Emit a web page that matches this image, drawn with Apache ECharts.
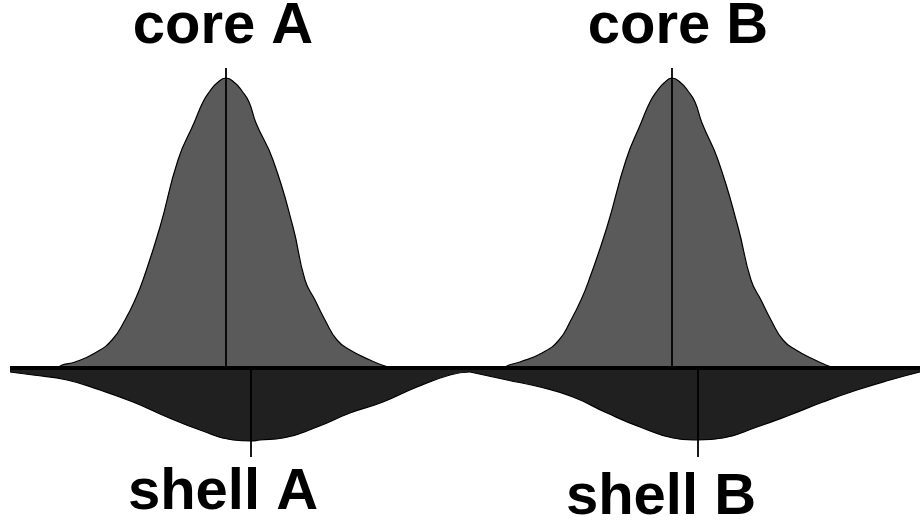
<!DOCTYPE html>
<html>
<head>
    <meta charset="UTF-8">
    <title>core / shell</title>
    <script src="https://cdn.jsdelivr.net/npm/echarts/dist/echarts.min.js"></script>
    <style>
        html, body { margin: 0; padding: 0; background: #fff; }
        #chart { width: 920px; height: 525px; }
    </style>
</head>
<body>
    <div id="chart"></div>
    <script>
        // 读图得到的数据 (x 位置, 信号高度; 基线为 0)
        var coreA = [[58,0],[62,3],[75,6],[95,15],[112,28],[125,48],[135,68],[143,88],[160,141],[178,208],[194,245],[203,266],[210,277],[217,285],[226,290],[235,285],[242,277],[249,266],[256,245],[273,208],[293,141],[305,88],[315,68],[325,48],[337,28],[350,18],[370,8],[382,3],[393,0]];
        var coreB = [[504,0],[509,3],[520,6],[542,15],[559,28],[571,48],[581,68],[589,88],[607,141],[626,208],[641,245],[650,266],[657,277],[664,285],[672,290],[681,285],[688,277],[695,266],[702,245],[718,208],[738,141],[751,88],[761,68],[771,48],[783,28],[796,18],[815,8],[826,3],[834,0]];
        var shellA = [[10,-4],[33,-7],[67,-12],[100,-22],[133,-34],[167,-49],[200,-62],[233,-72],[251,-73],[260,-72],[283,-70],[317,-59],[350,-45],[383,-34],[417,-19],[450,-7],[470,-4]];
        var shellB = [[470,-4],[507,-12],[540,-19],[573,-29],[607,-45],[640,-59],[673,-70],[693,-72],[698,-72],[723,-70],[757,-59],[790,-47],[823,-34],[857,-22],[890,-12],[920,-4]];

        // 峰位竖线
        var coreCenters = [226, 672];
        var coreLineTop = 300;
        var shellCenters = [251, 698];
        var shellLineBottom = -89;
        var baselineRange = [10, 920];

        var labels = ['core A', 'core B', 'shell A', 'shell B'];

        var chart = echarts.init(document.getElementById('chart'));

        function areaSeries(name, data, fill) {
            return {
                name: name,
                type: 'line',
                data: data,
                smooth: 0.5,
                symbol: 'none',
                lineStyle: { color: '#000', width: 1.2 },
                areaStyle: { color: fill, opacity: 1 },
                z: 2
            };
        }

        function vline(x, y) {
            return [{ coord: [x, 0] }, { coord: [x, y] }];
        }

        var font = 'bold 58px "Liberation Sans", Arial, sans-serif';

        var option = {
            animation: false,
            grid: { left: 0, right: 0, top: 0, bottom: 0 },
            xAxis: { type: 'value', min: 0, max: 920, show: false },
            yAxis: { type: 'value', min: -157, max: 368, show: false },
            series: [
                areaSeries('shell A', shellA, '#202020'),
                areaSeries('shell B', shellB, '#202020'),
                areaSeries('core A', coreA, '#5a5a5a'),
                areaSeries('core B', coreB, '#5a5a5a'),
                {
                    type: 'line',
                    data: [],
                    z: 5,
                    markLine: {
                        silent: true,
                        symbol: 'none',
                        label: { show: false },
                        animation: false,
                        lineStyle: { color: '#000', type: 'solid', width: 1.8 },
                        data: [
                            vline(coreCenters[0], coreLineTop),
                            vline(coreCenters[1], coreLineTop),
                            vline(shellCenters[0], shellLineBottom),
                            vline(shellCenters[1], shellLineBottom),
                            [{ coord: [baselineRange[0], 0], lineStyle: { width: 4 } },
                             { coord: [baselineRange[1], 0] }]
                        ]
                    }
                }
            ],
            graphic: [
                { type: 'text', x: 223, y: 27, style: { text: labels[0], font: font, fill: '#000', align: 'center', verticalAlign: 'middle' } },
                { type: 'text', x: 678, y: 27, style: { text: labels[1], font: font, fill: '#000', align: 'center', verticalAlign: 'middle' } },
                { type: 'text', x: 223, y: 493, style: { text: labels[2], font: font, fill: '#000', align: 'center', verticalAlign: 'middle' } },
                { type: 'text', x: 661, y: 498, style: { text: labels[3], font: font, fill: '#000', align: 'center', verticalAlign: 'middle' } }
            ]
        };

        chart.setOption(option);
    </script>
</body>
</html>
